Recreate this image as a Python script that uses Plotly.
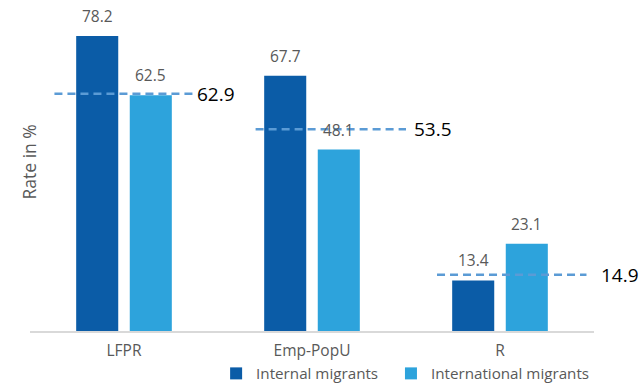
import plotly.graph_objects as go

# Labour market indicators by migrant group
categories = ["LFPR", "Emp-PopU", "R"]
internal_migrants = [78.2, 67.7, 13.4]
international_migrants = [62.5, 48.1, 23.1]
overall_average = [62.9, 53.5, 14.9]

DARK_BLUE = "#0B5CA7"
LIGHT_BLUE = "#2DA3DC"
DASH_BLUE = "#5B9BD5"
GREY_TEXT = "#595959"
FONT = "Open Sans, Lato, sans-serif"

xpos = list(range(len(categories)))
half_slot = 0.1425  # centre offset of each bar within its group
x_lo, x_hi = -0.5, 2.5


def to_paper(xv):
    return (xv - x_lo) / (x_hi - x_lo)


fig = go.Figure()
fig.add_bar(x=xpos, y=internal_migrants, name="Internal migrants",
            marker=dict(color=DARK_BLUE, line=dict(width=0)),
            legend="legend")
fig.add_bar(x=xpos, y=international_migrants, name="International migrants",
            marker=dict(color=LIGHT_BLUE, line=dict(width=0)),
            legend="legend2")

# value labels above each bar
for i, (a, b) in enumerate(zip(internal_migrants, international_migrants)):
    for xv, v in ((i - half_slot, a), (i + half_slot, b)):
        fig.add_annotation(x=xv, y=v, text=f"{v:.1f}", showarrow=False,
                           yanchor="bottom", yshift=7,
                           font=dict(size=15.5, color=GREY_TEXT, family=FONT))

# dashed average lines with their values to the right
line_span = [(-0.37, 0.375), (-0.30, 0.50), (-0.335, 0.46)]
label_off = [0.38, 0.53, 0.525]
for i, avg in enumerate(overall_average):
    x0, x1 = line_span[i]
    fig.add_scatter(x=[i + x0, i + x1], y=[avg, avg], mode="lines",
                    line=dict(color=DASH_BLUE, width=2.5, dash="8px,5px"),
                    showlegend=False, hoverinfo="skip", cliponaxis=False)
    fig.add_annotation(xref="paper", x=to_paper(i + label_off[i]), y=avg,
                       text=f"{avg:.1f}", showarrow=False,
                       xanchor="left", yanchor="middle",
                       font=dict(size=19, color="#000000", family=FONT))

# y-axis title
fig.add_annotation(xref="paper", yref="paper", x=-0.0266, y=0.528,
                   text="Rate in %", textangle=-90, showarrow=False,
                   font=dict(size=17.5, color=GREY_TEXT, family=FONT))

legend_style = dict(orientation="h", xanchor="left", y=-0.1324,
                    yanchor="middle", font=dict(size=15.2, color=GREY_TEXT),
                    itemwidth=30, bgcolor="rgba(0,0,0,0)")

fig.update_layout(
    width=641, height=385,
    margin=dict(l=30, r=47, t=10, b=54, autoexpand=False),
    paper_bgcolor="white", plot_bgcolor="white",
    barmode="group", bargap=0.43, bargroupgap=0.215,
    font=dict(family=FONT, size=15, color=GREY_TEXT),
    showlegend=True,
    legend=dict(x=0.33, **legend_style),
    legend2=dict(x=0.64, **legend_style),
    xaxis=dict(range=[x_lo, x_hi], tickvals=xpos, ticktext=categories,
               showline=True, linecolor="#D9D9D9", linewidth=1.5,
               showgrid=False, zeroline=False, ticks="",
               ticklabelstandoff=5,
               tickfont=dict(size=15.5, color=GREY_TEXT)),
    yaxis=dict(range=[0, 85.1], showticklabels=False, showgrid=False,
               zeroline=False, showline=False, ticks=""),
)

fig.write_html("out.html")
